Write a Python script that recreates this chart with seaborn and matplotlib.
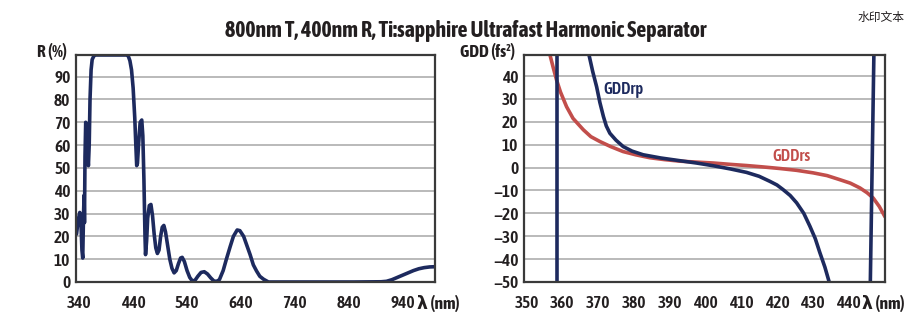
import numpy as np
import pandas as pd
import matplotlib
matplotlib.use("Agg")
import matplotlib.pyplot as plt
from matplotlib import font_manager as fm
from matplotlib import patheffects as pe
import seaborn as sns

# Reflectance R (%) vs wavelength (nm)
r_wavelength = [335, 338, 341, 343, 345, 346.5, 348, 349, 349.7, 350.7, 352, 353.5, 355, 357,
                358.5, 360, 362, 364, 367, 370, 400, 428, 431, 434, 437, 440, 443, 445,
                446.6, 448, 450, 453, 456, 458, 460, 462, 463, 465, 467, 470, 473, 476,
                479, 482, 485, 488, 491, 494, 497, 500, 504, 508, 512, 516, 520, 524, 528,
                531, 535, 540, 545, 550, 555, 560, 566, 572, 578, 584, 590, 595, 600, 607,
                613, 620, 626, 633, 638, 645, 651, 657, 663, 669, 675, 682, 691, 750, 850,
                900, 910, 920, 930, 940, 950, 960, 970, 980, 990, 1000]
r_percent = [21, 27, 30.5, 27, 14, 10.5, 30, 38, 26, 55, 70, 68, 58, 51,
             60, 80, 93, 97.5, 99, 99.5, 99.5, 99.5, 99, 97, 93, 85, 72, 60,
             51, 52, 60, 70, 71, 64, 45, 20, 12, 18, 28, 33.5, 34, 29,
             21, 15, 12.5, 14, 20, 24, 24.8, 22, 16, 10, 6, 4, 5, 8, 10.5,
             10.8, 9, 5, 2, 0.4, 0.8, 2.5, 4.2, 4.5, 3.5, 1.8, 0.4, 0.3, 1, 5,
             10, 15.5, 20, 22.8, 22.5, 20, 16, 12, 7.5, 4.8, 2.5, 1.2, 0, 0, 0,
             0.1, 0.3, 1, 2, 3, 4, 5, 5.8, 6.3, 6.6, 6.7]

# Group delay dispersion (fs^2) vs wavelength (nm), s-polarisation
rs_wavelength = [356.0, 356.6, 357.5, 358.4, 359.5, 361.2, 363.0, 365.9, 368.0, 370.5,
                 373.5, 377.0, 380.5, 384.5, 388.5, 392.9, 397.5, 402.2, 407.0, 411.5,
                 416.0, 420.8, 425.5, 430.1, 434.0, 437.6, 440.5, 443.2, 445.2, 446.9,
                 448.6, 450.2]
gdd_rs = [53, 49, 43.5, 38.3, 33, 26.6, 21.5, 16.5, 13.5, 11.4,
          9.2, 7.0, 5.6, 4.3, 3.5, 2.8, 2.4, 2.0, 1.4, 0.9,
          0.3, -0.4, -1.2, -2.3, -3.5, -5.3, -6.8, -8.9, -11.0, -13.3,
          -17.0, -21.5]

# p-polarisation: three branches separated by poles
rp_wavelength = [358.4, 358.4,
                 367.3, 367.5, 368.5, 369.6, 370.5, 371.5, 372.3, 373.3, 375.0, 377.0,
                 379.5, 382.6, 387.5, 392.9, 397.5, 402.2, 407.0, 411.5, 415.0, 418.0,
                 420.0, 421.7, 423.7, 425.5, 427.5, 429.2, 430.7, 432.0, 433.4, 434.6,
                 435.0,
                 446.0, 447.2]
gdd_rp = [60, -60,
          55, 49, 42, 35.3, 28.5, 22.3, 18.2, 15.0, 12.0, 9.2,
          7.2, 5.6, 4.2, 3.0, 2.0, 0.8, -0.6, -2.1, -3.8, -6.0,
          -7.6, -9.6, -12.2, -15.4, -20.0, -25.6, -31.0, -37.2, -43.5, -50.0,
          -53.0,
          -60, 60]
rp_branch = [0, 0] + [1] * 31 + [2, 2]

r_ticks = list(range(340, 941, 100))
gdd_ticks = list(range(350, 441, 10))

NAVY = "#1d2a5e"
RED = "#c24e4b"
INK = "#231f20"
GRID = "#b4b4b4"
FRAME = "#3a3a3a"

sns.set_theme(style="white")

# choose a narrow sans face, preferring one that ships a bold weight
entries = fm.fontManager.ttflist


def _is_bold(w):
    if isinstance(w, (int, float)):
        return w >= 600
    return str(w).lower() in ("bold", "heavy", "black", "semibold", "demibold",
                              "extra bold", "ultrabold", "demi")


narrow_names = sorted({f.name for f in entries
                       if "Narrow" in f.name or "Condensed" in f.name})
cond_names = sorted({f.name for f in entries
                     if str(f.stretch) in ("condensed", "semi-condensed")})
bold_names = {f.name for f in entries if _is_bold(f.weight)}

FAMILY, STRETCH, HAS_BOLD = "Roboto", "normal", True
for group, stretch in ((narrow_names, "normal"), (cond_names, "condensed")):
    with_bold = [n for n in group if n in bold_names]
    if with_bold:
        FAMILY, STRETCH, HAS_BOLD = with_bold[0], stretch, True
        break
else:
    if narrow_names:
        FAMILY, STRETCH, HAS_BOLD = narrow_names[0], "normal", False
    elif cond_names:
        FAMILY, STRETCH, HAS_BOLD = cond_names[0], "condensed", False

plt.rcParams["font.family"] = [FAMILY, "DejaVu Sans"]
plt.rcParams["font.stretch"] = STRETCH


def heavy(text, amount):
    """Thicken glyphs when the face has no bold cut."""
    if not HAS_BOLD:
        text.set_path_effects([pe.withStroke(linewidth=amount,
                                             foreground=text.get_color())])
    return text


fig = plt.figure(figsize=(9.14, 3.36), dpi=100)
ax1 = fig.add_axes([76 / 914, 1 - 282 / 336, 359 / 914, 227 / 336])
ax2 = fig.add_axes([524 / 914, 1 - 282 / 336, 361 / 914, 227 / 336])

df_r = pd.DataFrame({"wl": r_wavelength, "R": r_percent})
sns.lineplot(data=df_r, x="wl", y="R", ax=ax1, color=NAVY, lw=2.6,
             sort=False, estimator=None)

df_rs = pd.DataFrame({"wl": rs_wavelength, "gdd": gdd_rs})
sns.lineplot(data=df_rs, x="wl", y="gdd", ax=ax2, color=RED, lw=2.6,
             sort=False, estimator=None)
df_rp = pd.DataFrame({"wl": rp_wavelength, "gdd": gdd_rp, "branch": rp_branch})
sns.lineplot(data=df_rp, x="wl", y="gdd", units="branch", ax=ax2, color=NAVY,
             lw=2.6, sort=False, estimator=None)

ax1.set_xlim(334, 1000)
ax1.set_ylim(0, 99.5)
ax1.set_xticks(r_ticks)
ax1.set_yticks(range(0, 91, 10))

ax2.set_xlim(349.3, 450.2)
ax2.set_ylim(-50, 49.2)
ax2.set_xticks(gdd_ticks)
ax2.set_yticks(range(-50, 41, 10))

TICK_FS = 12.5
for ax in (ax1, ax2):
    ax.set_xlabel("")
    ax.set_ylabel("")
    ax.yaxis.grid(True, color=GRID, lw=1.3)
    ax.xaxis.grid(False)
    ax.set_axisbelow(True)
    for s in ax.spines.values():
        s.set_color(FRAME)
        s.set_linewidth(1.6)
    ax.tick_params(axis="both", length=0, labelsize=TICK_FS, colors=INK)
    ax.tick_params(axis="x", pad=9)
    ax.tick_params(axis="y", pad=4)
    for lab in ax.get_xticklabels() + ax.get_yticklabels():
        lab.set_fontweight("semibold")
        heavy(lab, 0.7)

for ax, last in ((ax1, 940), (ax2, 440)):
    heavy(ax.annotate("λ (nm)", xy=(last, 0), xycoords=("data", "axes fraction"),
                      xytext=(10, -9), textcoords="offset points", ha="left",
                      va="top", fontsize=TICK_FS, fontweight="bold", color=INK), 0.9)

heavy(ax2.text(418.8, 1.0, "GDDrs", color=RED, fontsize=12,
               fontweight="semibold", ha="left", va="bottom"), 0.5)
heavy(ax2.text(371.5, 34.0, "GDDrp", color=NAVY, fontsize=12,
               fontweight="semibold", ha="left", va="center"), 0.5)

heavy(fig.text(67 / 914, 1 - 57 / 336, "R (%)", ha="right", va="baseline",
               fontsize=12.5, fontweight="bold", color=INK), 0.9)
heavy(fig.text(515 / 914, 1 - 57 / 336, "GDD (fs²)", ha="right", va="baseline",
               fontsize=12.5, fontweight="bold", color=INK), 0.9)

title = fig.text(465.5 / 914, 1 - 37 / 336,
                 "800nm T, 400nm R, Ti:sapphire Ultrafast Harmonic Separator",
                 ha="center", va="baseline", fontsize=16, fontweight="bold",
                 color=INK)
heavy(title, 1.1)
# fit the title to its printed width
renderer = fig.canvas.get_renderer()
w = title.get_window_extent(renderer).width
title.set_fontsize(16 * 481 / w)

fig.text(881 / 914, 1 - 17 / 336, "水印文本", ha="center", va="center",
         fontsize=8.5, color=INK, family=["Noto Sans CJK SC", "DejaVu Sans"])

fig.savefig("out.png", dpi=100)
